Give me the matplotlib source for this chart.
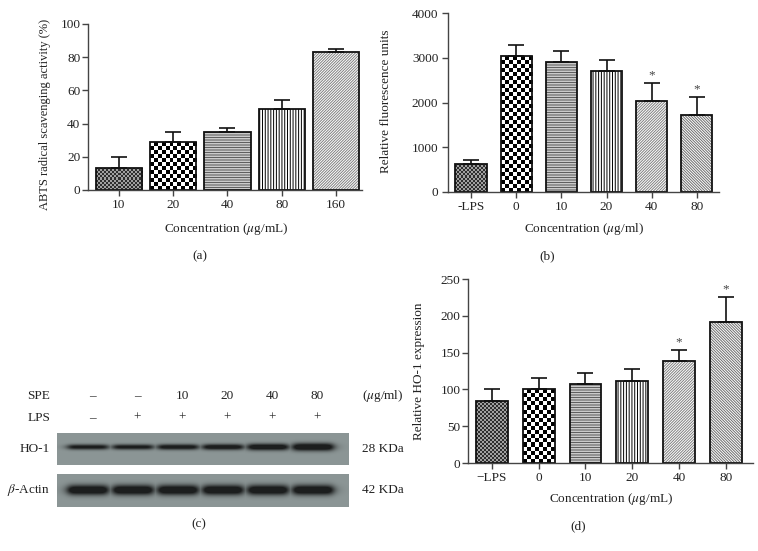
import matplotlib
matplotlib.use('Agg')
import matplotlib.pyplot as plt
import numpy as np
from matplotlib.colors import ListedColormap

plt.rcParams['font.family'] = ['Liberation Serif', 'DejaVu Serif']
plt.rcParams['mathtext.fontset'] = 'stix'
plt.rcParams['hatch.linewidth'] = 0.7
plt.rcParams['font.size'] = 9.5

# panel (a)
a_labels = ['10', '20', '40', '80', '160']
a_values = [13.5, 28.8, 35.0, 48.9, 83.1]
a_err = [6.6, 6.4, 2.6, 5.4, 1.6]

# panel (b)
b_labels = ['-LPS', '0', '10', '20', '40', '80']
b_values = [635, 3030, 2895, 2695, 2040, 1730]
b_err = [75, 265, 255, 245, 400, 390]
b_sig = [False, False, False, False, True, True]

# panel (c) western blot
c_spe = ['\u2013', '\u2013', '10', '20', '40', '80']
c_lps = ['\u2013', '+', '+', '+', '+', '+']
c_ho1 = [0.80, 0.80, 0.85, 0.88, 0.95, 1.00]
c_ho1_thick = [1.0, 1.0, 1.05, 1.1, 1.25, 1.45]
c_actin = [1.0, 1.0, 1.0, 1.0, 1.0, 1.0]

# panel (d)
d_labels = ['\u2212LPS', '0', '10', '20', '40', '80']
d_values = [84, 100, 108, 112, 139, 191]
d_err = [17, 15, 14, 16, 15, 35]
d_sig = [False, False, False, False, True, True]

STYLES = [
    ('checker', 2, '#2e2e2e', '#a0a0a0'),
    ('checker', 4, '#000000', '#ffffff'),
    ('hatch', '----------', '#5a5a5a'),
    ('hatch', '||||||', '#000000'),
    ('hatch', '////////////', '#808080'),
    ('hatch', '\\' * 12, '#6e6e6e'),
]

W, H = 758, 551
fig = plt.figure(figsize=(W / 100, H / 100), dpi=100)

overlay = fig.add_axes([0, 0, 1, 1])
overlay.set_xlim(0, W)
overlay.set_ylim(H, 0)
overlay.axis('off')
tc = '#222222'


def px_axes(l, t, r, b):
    return fig.add_axes([l / W, 1 - b / H, (r - l) / W, (b - t) / H])


def checker(ax, rect, cell, c1, c2):
    x0, y0 = rect.get_x(), rect.get_y()
    w, h = rect.get_width(), rect.get_height()
    p0 = ax.transData.transform((x0, y0))
    p1 = ax.transData.transform((x0 + w, y0 + h))
    nx = max(1, int(round((p1[0] - p0[0]) / cell)))
    ny = max(1, int(round((p1[1] - p0[1]) / cell)))
    grid = np.add.outer(np.arange(ny), np.arange(nx)) % 2
    im = ax.imshow(grid, cmap=ListedColormap([c1, c2]), extent=(x0, x0 + w, y0, y0 + h),
                   aspect='auto', interpolation='nearest', origin='lower', zorder=1.5)
    im.set_clip_path(rect)


def bar_panel(ax, labels, values, err, width, ymax, ystep, xlim, sig=None, ypad=1.5):
    x = np.arange(len(values))
    ax.set_xlim(*xlim)
    ax.set_ylim(0, ymax)
    for i, v in enumerate(values):
        st = STYLES[i]
        if len(values) == 5 and i == 4:
            st = STYLES[4]
        if st[0] == 'hatch':
            ax.bar(x[i], v, width, color='white', edgecolor=st[2], hatch=st[1],
                   linewidth=0, zorder=1.5)
        outline = ax.bar(x[i], v, width, fill=False, edgecolor='#111111',
                         linewidth=1.3, zorder=2)[0]
        if st[0] == 'checker':
            checker(ax, outline, st[1], st[2], st[3])
    ax.errorbar(x, values, yerr=[np.zeros(len(err)), err], fmt='none', ecolor='#111111',
                elinewidth=1.2, capsize=5.8, capthick=1.2, zorder=3)
    if sig is not None:
        for i, s in enumerate(sig):
            if s:
                ax.annotate('*', (x[i], values[i] + err[i]), xytext=(0, 1),
                            textcoords='offset points', ha='center', va='bottom',
                            fontsize=9.5, color='#444444')
    ax.set_xlim(*xlim)
    ax.set_ylim(0, ymax)
    ax.set_xticks(x)
    ax.set_xticklabels(labels)
    ax.set_yticks(np.arange(0, ymax + 1, ystep))
    for s in ['top', 'right']:
        ax.spines[s].set_visible(False)
    for s in ['left', 'bottom']:
        ax.spines[s].set_color('#444444')
        ax.spines[s].set_linewidth(1.0)
    ax.tick_params(direction='out', length=4, width=1.0, color='#444444',
                   labelsize=9.5, labelcolor=tc)
    ax.tick_params(axis='y', pad=ypad)
    ax.tick_params(axis='x', pad=2.5)
    ax.patch.set_alpha(0)


def label(x, y, s, rot=0, size=9.5):
    overlay.text(x, y, s, ha='center', va='center', rotation=rot, fontsize=size, color=tc)


ax_a = px_axes(88, 24, 362, 190)
bar_panel(ax_a, a_labels, a_values, a_err, 0.85, 100, 20, (-0.57, 4.48))
label(45, 114, 'ABTS radical scavenging activity (%)', 90, 9)
label(226, 229, 'Concentration ($\\mu$g/mL)')

ax_b = px_axes(448, 13, 719, 192)
bar_panel(ax_b, b_labels, b_values, b_err, 0.69, 4000, 1000, (-0.51, 5.49), b_sig, ypad=3)
label(386, 101, 'Relative fluorescence units', 90)
label(584, 229, 'Concentration ($\\mu$g/ml)')

ax_d = px_axes(468, 279, 753, 463)
bar_panel(ax_d, d_labels, d_values, d_err, 0.68, 250, 50, (-0.51, 5.58), d_sig)
label(419, 371, 'Relative HO-1 expression', 90)
label(611, 499, 'Concentration ($\\mu$g/mL)')

# panel (c): blot drawn in pixel coordinates of the overlay
lane_x0, lane_step = 88, 45
blot_l, blot_r = 57, 349
bg = np.array([140, 150, 150]) / 255
band = np.array([28, 30, 30]) / 255


def blot(top, bottom, yc, intens, thick, sy):
    xs = np.arange(blot_l, blot_r) + 0.5
    ys = np.arange(top, bottom) + 0.5
    alpha = np.zeros((len(ys), len(xs)))
    for i, (k, t) in enumerate(zip(intens, thick)):
        cx = lane_x0 + i * lane_step
        hz = 1 / (1 + ((xs - cx) / 20.5) ** 8)
        vt = np.exp(-0.5 * ((ys - yc) / (sy * t)) ** 2)
        alpha = np.maximum(alpha, np.clip(1.35 * k * np.outer(vt, hz), 0, 1))
    img = bg[None, None, :] * (1 - alpha[..., None]) + band[None, None, :] * alpha[..., None]
    overlay.imshow(img, extent=(blot_l, blot_r, bottom, top), aspect='auto',
                   interpolation='bilinear', zorder=1)


blot(433, 465, 447, c_ho1, c_ho1_thick, 1.9)
blot(474, 507, 490, c_actin, [1.0] * 6, 3.6)
overlay.set_xlim(0, W)
overlay.set_ylim(H, 0)

for i, (s, l) in enumerate(zip(c_spe, c_lps)):
    cx = lane_x0 + 4 + i * lane_step
    overlay.text(cx, 396, s, ha='center', va='center', fontsize=9.5, color=tc)
    overlay.text(cx, 418, l, ha='center', va='center', fontsize=9.5, color=tc)
overlay.text(50, 396, 'SPE', ha='right', va='center', fontsize=9.5, color=tc)
overlay.text(50, 418, 'LPS', ha='right', va='center', fontsize=9.5, color=tc)
overlay.text(50, 449, 'HO-1', ha='right', va='center', fontsize=9.5, color=tc)
overlay.text(50, 490, '$\\beta$-Actin', ha='right', va='center', fontsize=9.5, color=tc)
overlay.text(362, 396, '($\\mu$g/ml)', ha='left', va='center', fontsize=9.5, color=tc)
overlay.text(362, 449, '28 KDa', ha='left', va='center', fontsize=9.5, color=tc)
overlay.text(362, 490, '42 KDa', ha='left', va='center', fontsize=9.5, color=tc)

# panel letters
label(200, 256, '(a)')
label(547, 256, '(b)')
label(199, 524, '(c)')
label(578, 526, '(d)')

fig.savefig('out.png', dpi=100)
